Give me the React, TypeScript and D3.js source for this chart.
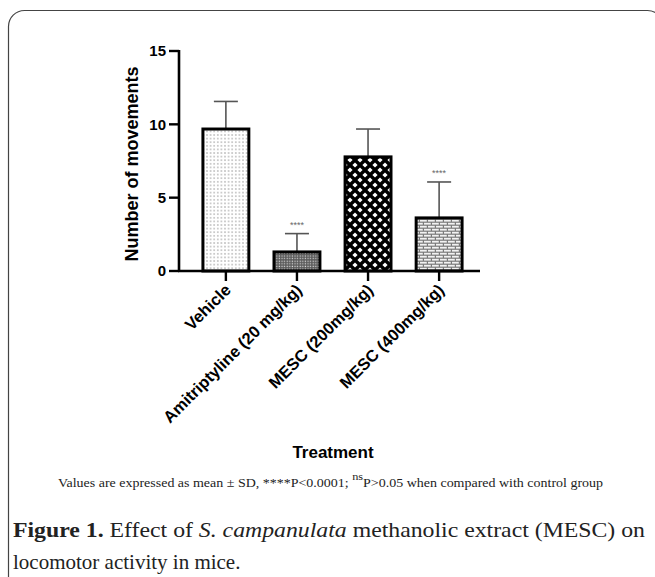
import React from "react";
import * as d3 from "d3";

const categories = ["Vehicle", "Amitriptyline (20 mg/kg)", "MESC (200mg/kg)", "MESC (400mg/kg)"];
const means = [9.68, 1.3, 7.78, 3.62];
const sds = [1.88, 1.25, 1.9, 2.45];
const stars = ["", "****", "", "****"];
const patterns = ["dots", "fine", "diamonds", "bricks"];
const yTicks = [0, 5, 10, 15];

const W = 655;
const H = 577;

const App = () => {
  const x = d3.scaleBand<string>()
    .domain(categories)
    .range([181.6, 483.4])
    .paddingInner(0.354)
    .paddingOuter(0.3);

  const y = d3.scaleLinear()
    .domain([0, 15])
    .range([271, 51]);

  const axisLeft = 179;
  const axisRight = 480;
  const grey = "#555";

  return (
    <svg width={W} height={H} style={{ position: "absolute", left: 0, top: 0 }}>
      <defs>
        <pattern id="dots" width="3.6" height="3.6" patternUnits="userSpaceOnUse">
          <rect width="3.6" height="3.6" fill="#fff" />
          <circle cx="1.8" cy="1.8" r="0.65" fill="#7a7a7a" />
        </pattern>
        <pattern id="fine" width="2.6" height="2.6" patternUnits="userSpaceOnUse">
          <rect width="2.6" height="2.6" fill="#5a5a5a" />
          <rect x="0.6" y="0.6" width="1.2" height="1.2" fill="#d8d8d8" />
        </pattern>
        <pattern id="diamonds" width="10" height="10" patternUnits="userSpaceOnUse">
          <rect width="10" height="10" fill="#000" />
          <path d="M5,2.4 L7.6,5 L5,7.6 L2.4,5 Z" fill="#fff" />
          <path d="M0,-2.6 L2.6,0 L0,2.6 L-2.6,0 Z M10,-2.6 L12.6,0 L10,2.6 L7.4,0 Z M0,7.4 L2.6,10 L0,12.6 L-2.6,10 Z M10,7.4 L12.6,10 L10,12.6 L7.4,10 Z" fill="#fff" />
        </pattern>
        <pattern id="bricks" width="8" height="6" patternUnits="userSpaceOnUse">
          <rect width="8" height="6" fill="#7a7a7a" />
          <rect x="0" y="0.8" width="6.8" height="1.8" fill="#f2f2f2" />
          <rect x="4" y="3.8" width="6.8" height="1.8" fill="#f2f2f2" />
          <rect x="-4" y="3.8" width="6.8" height="1.8" fill="#f2f2f2" />
        </pattern>
      </defs>

      {/* frame */}
      <rect x={8.5} y={10.5} width={655} height={600} rx={16} fill="none" stroke="#444" strokeWidth={1.2} />

      {/* error bars */}
      {categories.map((c, i) => {
        const cx = x(c)! + x.bandwidth() / 2;
        return (
          <g key={"e" + c} stroke={grey} strokeWidth={1.6}>
            <line x1={cx} x2={cx} y1={y(means[i])} y2={y(means[i] + sds[i])} />
            <line x1={cx - 12} x2={cx + 12} y1={y(means[i] + sds[i])} y2={y(means[i] + sds[i])} />
          </g>
        );
      })}

      {/* bars */}
      {categories.map((c, i) => (
        <rect
          key={"b" + c}
          x={x(c)!}
          y={y(means[i])}
          width={x.bandwidth()}
          height={y(0) - y(means[i])}
          fill={`url(#${patterns[i]})`}
          stroke="#000"
          strokeWidth={3}
        />
      ))}

      {/* significance */}
      {categories.map((c, i) => stars[i] ? (
        <text
          key={"s" + c}
          x={x(c)! + x.bandwidth() / 2}
          y={y(means[i] + sds[i]) - 6}
          textAnchor="middle"
          fontFamily="Liberation Sans, Arial, sans-serif"
          fontSize={9}
          fill="#666"
        >{stars[i]}</text>
      ) : null)}

      {/* y axis */}
      <line x1={axisLeft} x2={axisLeft} y1={y(15) - 1} y2={y(0) + 1} stroke="#000" strokeWidth={2.6} />
      {yTicks.map((t) => (
        <g key={"yt" + t}>
          <line x1={axisLeft - 10} x2={axisLeft} y1={y(t)} y2={y(t)} stroke="#000" strokeWidth={2.4} />
          <text
            x={axisLeft - 13}
            y={y(t)}
            dy="0.35em"
            textAnchor="end"
            fontFamily="Liberation Sans, Arial, sans-serif"
            fontWeight="bold"
            fontSize={15}
          >{t}</text>
        </g>
      ))}
      <text
        transform={`translate(138,${164}) rotate(-90)`}
        textAnchor="middle"
        fontFamily="Liberation Sans, Arial, sans-serif"
        fontWeight="bold"
        fontSize={18}
      >Number of movements</text>

      {/* x axis */}
      <line x1={axisLeft - 1} x2={axisRight} y1={y(0)} y2={y(0)} stroke="#000" strokeWidth={2.6} />
      {categories.map((c) => {
        const cx = x(c)! + x.bandwidth() / 2;
        return (
          <g key={"xt" + c}>
            <line x1={cx} x2={cx} y1={y(0)} y2={y(0) + 10} stroke="#000" strokeWidth={2.4} />
            <text
              transform={`translate(${cx + 6},${y(0) + 20}) rotate(-45)`}
              textAnchor="end"
              fontFamily="Liberation Sans, Arial, sans-serif"
              fontWeight="bold"
              fontSize={16.5}
            >{c}</text>
          </g>
        );
      })}
      <text
        x={333}
        y={458}
        textAnchor="middle"
        fontFamily="Liberation Sans, Arial, sans-serif"
        fontWeight="bold"
        fontSize={17}
      >Treatment</text>

      {/* captions */}
      <text
        x={58}
        y={487}
        fontFamily="Liberation Serif, Times New Roman, serif"
        fontSize={12.5}
        fill="#222"
        textLength={545}
        lengthAdjust="spacingAndGlyphs"
      >
        Values are expressed as mean ± SD, ****P&lt;0.0001;{" "}
        <tspan dy={-7} fontSize={11}>ns</tspan>
        <tspan dy={7}>P&gt;0.05 when compared with control group</tspan>
      </text>
      <text
        x={13}
        y={537}
        fontFamily="Liberation Serif, Times New Roman, serif"
        fontSize={21}
        fill="#222"
        textLength={632}
        lengthAdjust="spacingAndGlyphs"
      >
        <tspan fontWeight="bold">Figure 1.</tspan> Effect of <tspan fontStyle="italic">S. campanulata</tspan> methanolic extract (MESC) on
      </text>
      <text
        x={13}
        y={569}
        fontFamily="Liberation Serif, Times New Roman, serif"
        fontSize={21}
        fill="#222"
      >locomotor activity in mice.</text>
    </svg>
  );
};

export default App;
